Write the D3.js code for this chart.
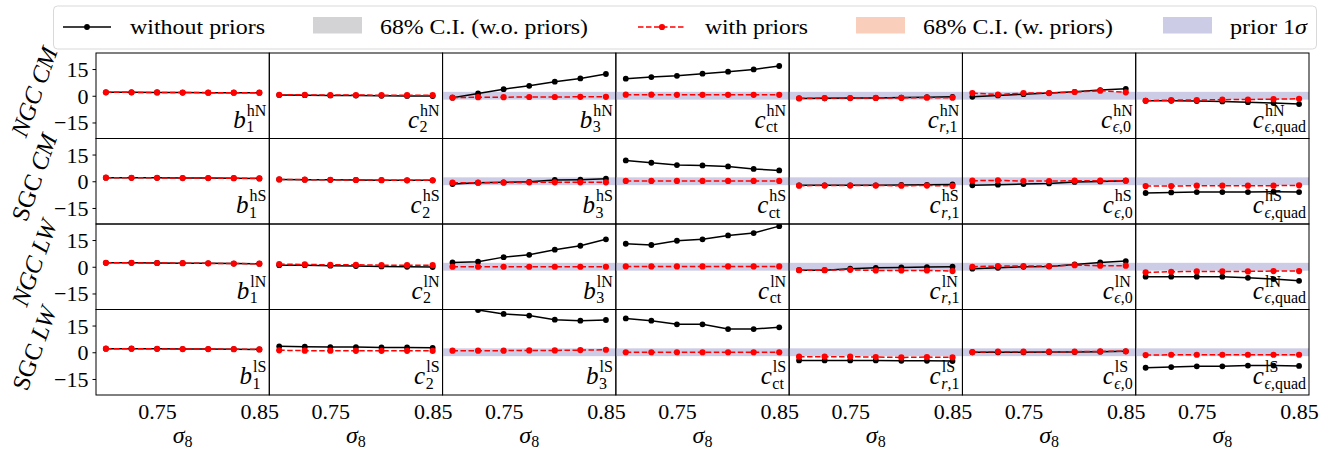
<!DOCTYPE html>
<html>
<head>
<meta charset="utf-8">
<script src="https://cdn.jsdelivr.net/npm/d3@7"></script>
<style>
  html, body { margin: 0; padding: 0; background: #fff; }
  svg { display: block; }
  text { font-family: "Liberation Serif", "DejaVu Serif", serif; fill: #000; }
</style>
</head>
<body>
<svg id="chart" width="1341" height="449"></svg>
<script>
// sigma_8 grid shared by every panel
const sigma8 = [0.70, 0.725, 0.75, 0.775, 0.80, 0.825, 0.85];
const xTicks = [0.75, 0.85];
const yTicks = [15, 0, -15];

// panel rows (sample / selection) and columns (nuisance parameters)
const rowSamples = ["NGC", "SGC", "NGC", "SGC"];
const rowSelections = ["CM", "CM", "LW", "LW"];
const rowSuper = ["hN", "hS", "lN", "lS"];
const colBase = ["b", "c", "b", "c", "c", "c", "c"];
const colSub = [
  [["1", false]],
  [["2", false]],
  [["3", false]],
  [["ct", false]],
  [["r", true], [",1", false]],
  [["\u03f5", true], [",0", false]],
  [["\u03f5", true], [",quad", false]]
];
// prior width (1 sigma) per column; null where no prior band is drawn
const priorSigma = [null, null, 2.2, 2.2, 2.2, 2.2, 2.2];

// best fits without priors: one list per column (b1, c2, b3, cct, cr1, ce0, cequad)
const ngcCmNoPrior = [
  [1.9, 1.9, 1.85, 1.8, 1.75, 1.7, 1.7],
  [0.4, 0.3, 0.2, 0.1, 0.0, -0.1, -0.2],
  [-1.1, 1.3, 3.7, 5.6, 7.9, 9.7, 12.2],
  [9.6, 10.5, 11.2, 12.4, 13.5, 14.8, 16.7],
  [-1.5, -1.4, -1.3, -1.2, -1.0, -0.8, -0.6],
  [-0.6, 0.2, 0.9, 1.5, 2.2, 3.2, 3.9],
  [-2.8, -2.8, -3.0, -3.2, -3.6, -4.1, -4.7]
];
const sgcCmNoPrior = [
  [2.0, 1.9, 1.9, 1.8, 1.8, 1.7, 1.6],
  [1.0, 0.9, 0.8, 0.7, 0.6, 0.5, 0.5],
  [-1.6, -0.8, -0.6, -0.3, 0.7, 0.9, 1.4],
  [11.7, 10.4, 9.1, 8.9, 8.3, 6.9, 6.1],
  [-2.3, -2.3, -2.3, -2.3, -2.1, -2.0, -1.8],
  [-2.3, -1.9, -1.6, -1.2, -0.4, -0.1, 0.3],
  [-6.6, -6.3, -6.1, -6.1, -6.1, -5.9, -6.1]
];
const ngcLwNoPrior = [
  [2.2, 2.2, 2.1, 2.0, 1.9, 1.8, 1.7],
  [0.9, 0.9, 0.6, 0.4, 0.2, 0.0, -0.2],
  [2.4, 2.8, 5.4, 6.7, 9.6, 11.8, 15.4],
  [12.9, 12.2, 14.6, 15.4, 17.6, 18.9, 22.8],
  [-1.9, -1.9, -1.1, -0.6, -0.4, -0.2, 0.0],
  [-1.1, -0.6, 0.0, 0.2, 1.3, 2.4, 3.2],
  [-5.6, -5.6, -5.6, -5.6, -6.2, -6.9, -7.9]
];
const sgcLwNoPrior = [
  [2.0, 2.0, 1.9, 1.8, 1.8, 1.7, 1.6],
  [3.3, 3.1, 2.9, 2.9, 2.7, 2.7, 2.5],
  [26.5, 23.7, 21.5, 20.6, 18.3, 17.7, 18.1],
  [19.0, 17.7, 15.7, 15.7, 13.0, 13.0, 14.0],
  [-4.6, -4.6, -4.6, -4.6, -4.8, -4.8, -4.9],
  [0.0, 0.0, 0.0, 0.1, 0.1, 0.3, 0.5],
  [-8.7, -8.3, -7.9, -7.9, -7.5, -7.5, -7.7]
];

// best fits with priors
const ngcCmPrior = [
  [1.9, 1.9, 1.85, 1.8, 1.75, 1.7, 1.7],
  [0.5, 0.5, 0.4, 0.4, 0.3, 0.3, 0.3],
  [-1.1, -0.8, -0.8, -0.7, -0.7, -0.6, -0.6],
  [0.6, 0.6, 0.5, 0.5, 0.5, 0.5, 0.5],
  [-1.4, -1.3, -1.3, -1.2, -1.2, -1.1, -1.1],
  [1.5, 0.7, 1.5, 1.5, 2.1, 2.8, 1.9],
  [-2.8, -2.4, -2.4, -2.2, -2.1, -1.9, -1.7]
];
const sgcCmPrior = [
  [2.0, 1.9, 1.9, 1.8, 1.8, 1.7, 1.6],
  [1.0, 0.9, 0.8, 0.7, 0.6, 0.5, 0.5],
  [-0.8, -0.8, -0.8, -0.6, -0.6, -0.6, -0.6],
  [0.2, 0.2, 0.2, 0.2, 0.2, 0.2, 0.2],
  [-2.5, -2.4, -2.4, -2.4, -2.5, -2.4, -2.6],
  [0.3, 0.5, 0.1, 0.1, 0.3, 0.3, 0.3],
  [-2.7, -2.7, -2.5, -2.5, -2.5, -2.5, -2.3]
];
const ngcLwPrior = [
  [2.2, 2.2, 2.1, 2.0, 1.9, 1.8, 1.7],
  [1.5, 1.3, 1.1, 1.1, 0.9, 0.9, 0.9],
  [0.0, 0.0, 0.0, 0.0, 0.0, 0.0, 0.0],
  [0.2, 0.2, 0.2, 0.2, 0.2, 0.2, 0.2],
  [-1.9, -1.9, -1.7, -2.1, -2.1, -2.1, -2.4],
  [0.0, 0.4, 0.4, 0.4, 0.9, 0.6, 0.6],
  [-3.2, -2.8, -2.6, -2.6, -2.6, -2.4, -2.4]
];
const sgcLwPrior = [
  [2.0, 2.0, 1.9, 1.8, 1.8, 1.7, 1.6],
  [1.1, 0.9, 0.9, 0.8, 0.8, 0.8, 0.8],
  [0.9, 0.9, 0.9, 1.0, 1.0, 1.2, 1.4],
  [0.0, 0.0, 0.0, 0.0, 0.0, 0.0, 0.0],
  [-2.5, -2.5, -2.5, -2.7, -2.9, -2.7, -2.9],
  [0.1, 0.3, 0.3, 0.3, 0.3, 0.5, 0.5],
  [-1.6, -1.4, -1.4, -1.4, -1.4, -1.4, -1.4]
];

const noPriorRows = [ngcCmNoPrior, sgcCmNoPrior, ngcLwNoPrior, sgcLwNoPrior];
const priorRows = [ngcCmPrior, sgcCmPrior, ngcLwPrior, sgcLwPrior];

// legend entries
const legendLabels = ["without priors", "68% C.I. (w.o. priors)", "with priors", "68% C.I. (w. priors)", "prior 1"];

// ---------------------------------------------------------------- layout
const svg = d3.select("#chart");
const gridLeft = 96, gridRight = 1309, gridTop = 53, gridBottom = 395;
const nCols = 7, nRows = 4;
const pw = (gridRight - gridLeft) / nCols;
const ph = (gridBottom - gridTop) / nRows;

const x = d3.scaleLinear().domain([0.6903, 0.8597]).range([0, pw]);
const y = d3.scaleLinear().domain([-24, 24]).range([ph, 0]);

const colors = {
  black: "#000000",
  red: "#ff0000",
  prior: "#ccccE6",
  ciGray: "#d3d3d6",
  ciRed: "#f9cfbb"
};

const defs = svg.append("defs");
defs.append("clipPath").attr("id", "panelClip")
  .append("rect").attr("x", 0).attr("y", 0).attr("width", pw).attr("height", ph);

const line = d3.line().x((d, i) => x(sigma8[i])).y(d => y(d));

function drawLabel(g, col, row, right, bottom) {
  const lab = g.append("g");
  const base = lab.append("text")
    .attr("x", 0).attr("y", 0)
    .attr("font-size", 25).attr("font-style", "italic")
    .text(colBase[col]);
  const wb = base.node().getComputedTextLength();
  const sup = lab.append("text")
    .attr("x", wb + 1).attr("y", -12)
    .attr("font-size", 16)
    .text(rowSuper[row]);
  const sub = lab.append("text")
    .attr("x", wb + 0.5).attr("y", 4.5)
    .attr("font-size", 16);
  colSub[col].forEach(([t, it]) => {
    sub.append("tspan").attr("font-style", it ? "italic" : "normal").text(t);
  });
  const ws = sup.node().getComputedTextLength();
  const wsub = sub.node().getComputedTextLength();
  const total = wb + Math.max(ws + 1, wsub + 0.5);
  lab.attr("transform", `translate(${right - 3 - total},${bottom - 11})`);
}

for (let r = 0; r < nRows; r++) {
  for (let c = 0; c < nCols; c++) {
    const px = gridLeft + c * pw, py = gridTop + r * ph;
    const g = svg.append("g").attr("transform", `translate(${px},${py})`);
    const inner = g.append("g").attr("clip-path", "url(#panelClip)");

    if (priorSigma[c] !== null) {
      inner.append("rect")
        .attr("x", 0).attr("width", pw)
        .attr("y", y(priorSigma[c])).attr("height", y(-priorSigma[c]) - y(priorSigma[c]))
        .attr("fill", colors.prior);
    }

    const vb = noPriorRows[r][c];
    inner.append("path").datum(vb)
      .attr("d", line).attr("fill", "none")
      .attr("stroke", colors.black).attr("stroke-width", 1.5);
    inner.selectAll("circle.nb").data(vb).enter().append("circle")
      .attr("cx", (d, i) => x(sigma8[i])).attr("cy", d => y(d))
      .attr("r", 2.9).attr("fill", colors.black);

    const vr = priorRows[r][c];
    inner.append("path").datum(vr)
      .attr("d", line).attr("fill", "none")
      .attr("stroke", colors.red).attr("stroke-width", 1.5)
      .attr("stroke-dasharray", "5.5,2.5");
    inner.selectAll("circle.wp").data(vr).enter().append("circle")
      .attr("cx", (d, i) => x(sigma8[i])).attr("cy", d => y(d))
      .attr("r", 3.1).attr("fill", colors.red);

    drawLabel(g, c, r, pw, ph);

    g.append("rect").attr("x", 0).attr("y", 0).attr("width", pw).attr("height", ph)
      .attr("fill", "none").attr("stroke", "#000").attr("stroke-width", 1);

    if (c === 0) {
      const ya = d3.axisLeft(y).tickValues(yTicks).tickSize(3.5).tickPadding(4)
        .tickFormat(d => d < 0 ? "\u2212" + Math.abs(d) : String(d));
      const ag = g.append("g").call(ya);
      ag.select(".domain").remove();
      ag.selectAll("text").attr("font-size", 22)
        .attr("font-family", "'Liberation Serif', serif").attr("dy", "0.34em");
      ag.selectAll("line").attr("stroke", "#000").attr("stroke-width", 1);
    }

    if (r === nRows - 1) {
      const xa = d3.axisBottom(x).tickValues(xTicks).tickSize(0).tickPadding(8)
        .tickFormat(d3.format(".2f"));
      const ag = g.append("g").attr("transform", `translate(0,${ph})`).call(xa);
      ag.select(".domain").remove();
      ag.selectAll("text").attr("font-size", 22)
        .attr("font-family", "'Liberation Serif', serif");
      const xl = g.append("text").attr("x", pw / 2).attr("y", ph + 47.5)
        .attr("text-anchor", "middle").attr("font-size", 24);
      xl.append("tspan").attr("font-style", "italic").text("\u03c3");
      xl.append("tspan").attr("font-size", 16).attr("dy", 4.5).text("8");
    }
  }

  // row label
  const cy = gridTop + r * ph + ph / 2 - 4;
  const rl = svg.append("text")
    .attr("transform", `translate(34,${cy}) rotate(-70)`)
    .attr("text-anchor", "middle").attr("dy", "0.35em")
    .attr("font-size", 24.5);
  rl.append("tspan").attr("font-style", rowSamples[r] === "NGC" ? "italic" : "normal").text(rowSamples[r]);
  rl.append("tspan").text("\u00a0");
  rl.append("tspan").attr("font-style", "italic").text(rowSelections[r]);
}

// ---------------------------------------------------------------- legend
const lg = svg.append("g");
lg.append("rect").attr("x", 53.5).attr("y", 6).attr("width", 1263).attr("height", 43)
  .attr("rx", 4).attr("fill", "#fff").attr("stroke", "#d9d9d9").attr("stroke-width", 1);
const ly = 27;
// without priors
lg.append("line").attr("x1", 63).attr("x2", 111).attr("y1", ly).attr("y2", ly)
  .attr("stroke", colors.black).attr("stroke-width", 1.5);
lg.append("circle").attr("cx", 87).attr("cy", ly).attr("r", 2.9).attr("fill", colors.black);
// C.I. without priors
lg.append("rect").attr("x", 313).attr("y", 17).attr("width", 49).attr("height", 16.5).attr("fill", colors.ciGray);
// with priors
lg.append("line").attr("x1", 638).attr("x2", 686).attr("y1", ly).attr("y2", ly)
  .attr("stroke", colors.red).attr("stroke-width", 1.5).attr("stroke-dasharray", "5.5,2.5");
lg.append("circle").attr("cx", 662).attr("cy", ly).attr("r", 3.1).attr("fill", colors.red);
// C.I. with priors
lg.append("rect").attr("x", 856).attr("y", 17).attr("width", 49).attr("height", 16.5).attr("fill", colors.ciRed);
// prior band
lg.append("rect").attr("x", 1163).attr("y", 17).attr("width", 49).attr("height", 16.5).attr("fill", colors.prior);

const legendX = [130, 380, 705, 923, 1230];
const legendW = [135, 208, 103, 190, 77];
legendLabels.forEach((t, i) => {
  const tx = lg.append("text").attr("x", legendX[i]).attr("y", 33.5)
    .attr("font-size", 22)
    .attr("textLength", legendW[i]).attr("lengthAdjust", "spacingAndGlyphs");
  tx.append("tspan").text(t);
  if (i === 4) tx.append("tspan").attr("font-style", "italic").text("\u03c3");
});
</script>
</body>
</html>
